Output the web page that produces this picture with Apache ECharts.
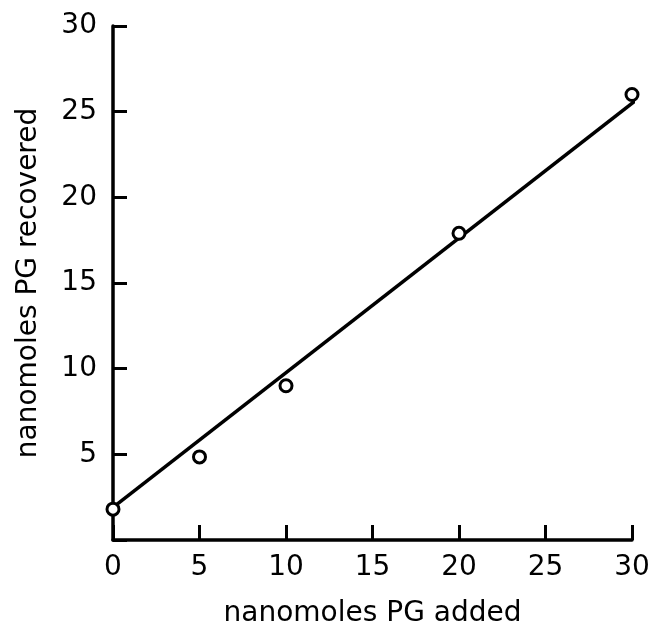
<!DOCTYPE html>
<html>
<head>
<meta charset="utf-8">
<script src="https://cdn.jsdelivr.net/npm/echarts@6/dist/echarts.min.js"></script>
<style>
  html, body { margin: 0; padding: 0; background: #fff; }
  #chart { width: 658px; height: 626px; }
</style>
</head>
<body>
<div id="chart"></div>
<script>
// measured points (nanomoles PG added vs recovered)
var addedVals = [0, 5, 10, 20, 30];
var recoveredVals = [1.8, 4.85, 9.0, 17.9, 26.0];
// fitted straight line ends
var fitX = [0, 30.4];
var fitY = [1.9, 25.8];

var chart = echarts.init(document.getElementById('chart'));
var font = 'DejaVu Sans';

var pts = addedVals.map(function (x, i) { return [x, recoveredVals[i]]; });
var fit = fitX.map(function (x, i) { return [x, fitY[i]]; });

var option = {
  animation: false,
  backgroundColor: '#fff',
  grid: { left: 113, right: 26, top: 26, bottom: 86, containLabel: false, outerBoundsMode: 'none' },
  xAxis: {
    type: 'value',
    min: 0, max: 30, interval: 5,
    name: 'nanomoles PG added',
    nameLocation: 'middle',
    nameGap: 60,
    nameTextStyle: { fontFamily: font, fontSize: 28, color: '#000' },
    axisLine: { show: true, lineStyle: { color: '#000', width: 3.5 } },
    axisTick: { show: true, inside: true, length: 15, lineStyle: { color: '#000', width: 3 } },
    axisLabel: { fontFamily: font, fontSize: 28, color: '#000', margin: 14 },
    splitLine: { show: false }
  },
  yAxis: {
    type: 'value',
    min: 0, max: 30, interval: 5,
    name: 'nanomoles PG recovered',
    nameLocation: 'middle',
    nameGap: 70,
    nameTextStyle: { fontFamily: font, fontSize: 28, color: '#000' },
    axisLine: { show: true, lineStyle: { color: '#000', width: 3.5 } },
    axisTick: { show: true, inside: true, length: 14, lineStyle: { color: '#000', width: 3 } },
    axisLabel: {
      fontFamily: font, fontSize: 28, color: '#000', margin: 16,
      formatter: function (v) { return v === 0 ? '' : v; }
    },
    splitLine: { show: false }
  },
  series: [
    {
      type: 'line',
      data: fit,
      symbol: 'none',
      clip: false,
      lineStyle: { color: '#000', width: 3.5 },
      z: 2
    },
    {
      type: 'scatter',
      data: pts,
      symbol: 'circle',
      symbolSize: 12,
      clip: false,
      itemStyle: { color: '#fff', borderColor: '#000', borderWidth: 3, opacity: 1 },
      z: 3
    }
  ]
};
chart.setOption(option);
</script>
</body>
</html>
